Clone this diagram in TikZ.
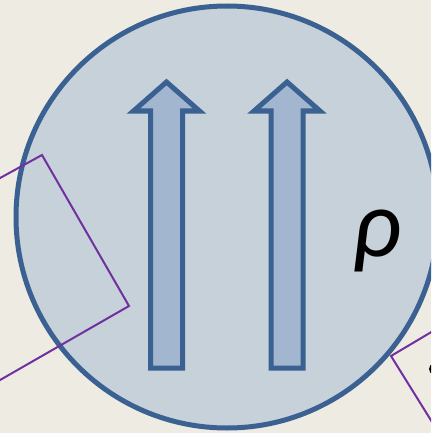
\documentclass[tikz,border=0pt]{standalone}
\usepackage{fontspec}
\newfontfamily\carlito{Carlito}
\usetikzlibrary{positioning}

\definecolor{paper}{HTML}{EEEBE2}
\definecolor{statefill}{HTML}{C6D1D9}
\definecolor{stateline}{HTML}{3A6192}
\definecolor{spinfill}{HTML}{A2B6CF}
\definecolor{frame}{HTML}{7030A0}

\begin{document}
\begin{tikzpicture}[
    x=1pt, y=-1pt,
    state/.style={
        circle,
        draw=stateline,
        fill=statefill,
        line width=5pt,
        minimum size=422pt,
        inner sep=0pt
    },
    spin/.style={
        draw=stateline,
        fill=spinfill,
        line width=5pt,
        miter limit=10
    },
    basis/.style={
        draw=frame,
        line width=2pt
    },
    pics/spinup/.style={
        code={
            \draw[spin] (0,-136) -- (33,-107) -- (16,-107) -- (16,150)
                -- (-16,150) -- (-16,-107) -- (-33,-107) -- cycle;
        }
    }
]
\useasboundingbox (0,0) rectangle (431,433);
\fill[paper] (0,0) rectangle (431,433);
\clip (0,0) rectangle (431,433);

% Density state
\node[state] (state) at (227,217) {};

% Two parallel spins
\coordinate (spinA) at (166.5,218);
\coordinate (spinB) at (287,218);
\pic at (spinA) {spinup};
\pic at (spinB) {spinup};

% Label
\node[inner sep=0pt, font=\carlito\itshape\fontsize{96}{96}\selectfont] (rho) at (377,241) {ρ};

% Measurement frames
\draw[basis] (-40,200) -- (42,155) -- (129,306) -- (-40,403);
\draw[basis] (460,315) -- (391,356) -- (460,467);

% Cut-off label
\fill[black] (433,369) ellipse (4 and 5);
\end{tikzpicture}
\end{document}
